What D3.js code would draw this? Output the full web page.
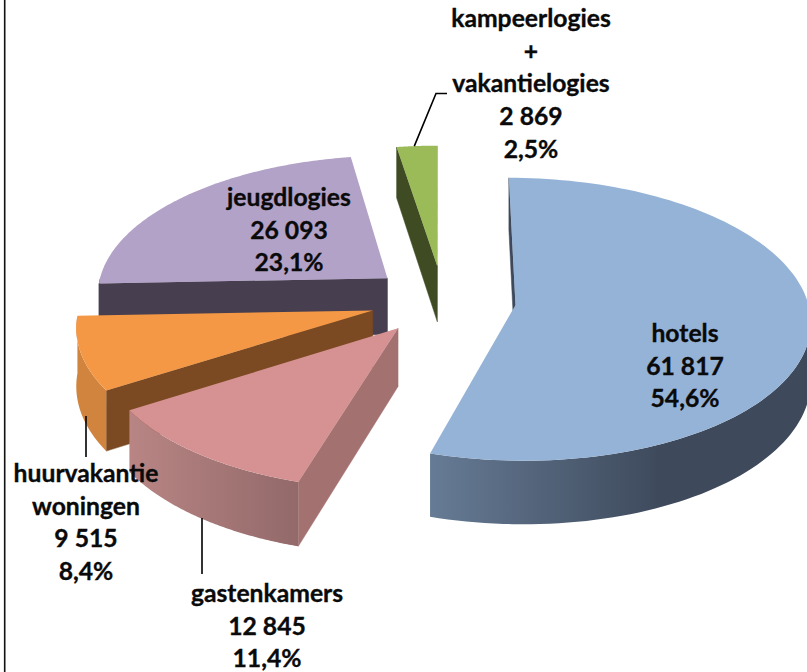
<!DOCTYPE html>
<html>
<head>
<meta charset="utf-8">
<script src="https://cdn.jsdelivr.net/npm/d3@7"></script>
<style>
html,body{margin:0;padding:0;background:#fff;overflow:hidden}
svg{display:block}
text{font-family:Lato,sans-serif;font-weight:700;font-size:24.7px;fill:#0a0a0a;stroke:#0a0a0a;stroke-width:0.35px;text-anchor:middle}
</style>
</head>
<body>
<svg id="chart" width="807" height="672"></svg>
<script>
// Data, clockwise from twelve o'clock
const categories = ["hotels", "gastenkamers", "huurvakantie woningen", "jeugdlogies", "kampeerlogies + vakantielogies"];
const visitors = [61817, 12845, 9515, 26093, 2869];

// Text layout of each label
const labelLines = [["hotels"], ["gastenkamers"], ["huurvakantie", "woningen"], ["jeugdlogies"], ["kampeerlogies", "+", "vakantielogies"]];
const labelCentreX = [685, 267, 86, 289, 531];
const labelFirstBaseline = [342, 602, 482, 206, 27];
const lineStep = 32.7;

// Styles
const topColors = ["#95b3d7", "#d69292", "#f59845", "#b3a2c7", "#9bbb59"];
const radialWallColors = ["#3e4a5c", "#a37170", "#7b4a22", "#473f4f", "#3f4b22"];
const arcWallStops = [["#667b95", "#3e4a5c"], ["#b88584", "#93696a"], ["#d0843e", "#d0843e"], ["#473f4f", "#473f4f"], ["#3f4b22", "#3f4b22"]];

// Projection of the tilted pie
const width = 807, height = 672;
const explode = 0.25, perspective = 0.1, wallDepth = 57;
const xScale = d3.scaleLinear().domain([-1, 1]).range([443 - 292, 443 + 292]);
const depthScale = d3.scaleLinear().domain([-1, 1]).range([139, -139]);

const svg = d3.select("#chart");
const defs = svg.append("defs");
const fmtLocale = d3.formatLocale({decimal: ",", thousands: " ", grouping: [3], currency: ["", ""]});
const fmtValue = fmtLocale.format(",d");
const fmtPct = fmtLocale.format(".1%");
const total = d3.sum(visitors);

const arcs = d3.pie().sort(null).value(d => d)(visitors);

function project(arc, angle, radius, lower) {
  const mid = (arc.startAngle + arc.endAngle) / 2;
  const X = explode * Math.sin(mid) + radius * Math.sin(angle);
  const Z = explode * Math.cos(mid) + radius * Math.cos(angle);
  const s = 1 / (1 + perspective * Z);
  return [
    xScale(0) + (xScale(X) - xScale(0)) * s,
    300 + depthScale(Z) * s + (lower ? wallDepth * s : 0)
  ];
}

const line = d3.line();
// back to front
const slices = arcs.map((arc, i) => ({arc, i}));
slices.sort((a, b) => Math.cos((b.arc.startAngle + b.arc.endAngle) / 2) - Math.cos((a.arc.startAngle + a.arc.endAngle) / 2));

const sampleAngles = (a0, a1) => d3.range(0, 121).map(t => a0 + (a1 - a0) * t / 120);

slices.forEach(({arc, i}) => {
  const g = svg.append("g").attr("class", "slice");
  const a0 = arc.startAngle, a1 = arc.endAngle;
  const apex = project(arc, 0, 0, false), apexL = project(arc, 0, 0, true);

  // radial walls, only where they face the viewer
  const rim0 = project(arc, a0, 1, false), rim0L = project(arc, a0, 1, true);
  const rim1 = project(arc, a1, 1, false), rim1L = project(arc, a1, 1, true);
  if (rim0[0] < apex[0]) {
    g.append("path").attr("d", line([apex, rim0, rim0L, apexL]) + "Z")
      .attr("fill", radialWallColors[i]).attr("stroke", radialWallColors[i]).attr("stroke-width", 0.5);
  }
  if (rim1[0] > apex[0] + 0.5) {
    g.append("path").attr("d", line([apex, rim1, rim1L, apexL]) + "Z")
      .attr("fill", radialWallColors[i]);
  }

  // outer curved wall, front half only
  const front = sampleAngles(a0, a1).filter(a => Math.cos(a) < 0.02);
  if (front.length > 1) {
    const upper = front.map(a => project(arc, a, 1, false));
    const lower = front.map(a => project(arc, a, 1, true));
    const xs = upper.map(p => p[0]);
    const gradId = "arcGrad" + i;
    const grad = defs.append("linearGradient").attr("id", gradId)
      .attr("gradientUnits", "userSpaceOnUse")
      .attr("x1", d3.min(xs)).attr("x2", i === 0 ? d3.min(xs) + 230 : d3.max(xs))
      .attr("y1", 0).attr("y2", 0);
    grad.append("stop").attr("offset", 0).attr("stop-color", arcWallStops[i][0]);
    grad.append("stop").attr("offset", 1).attr("stop-color", arcWallStops[i][1]);
    g.append("path").attr("d", line(upper.concat(lower.reverse())) + "Z")
      .attr("fill", `url(#${gradId})`);
  }

  // top face
  const rim = sampleAngles(a0, a1).map(a => project(arc, a, 1, false));
  g.append("path").attr("d", line([apex].concat(rim)) + "Z").attr("fill", topColors[i]);
});

// Leader lines from the rim of three slices to their labels
const leader = d3.line();
const rimPoint = (i, t) => {
  const arc = arcs[i];
  return project(arc, arc.startAngle + (arc.endAngle - arc.startAngle) * t, 1, false);
};
const kampStart = rimPoint(4, 0.43);
svg.append("path").attr("fill", "none").attr("stroke", "#000").attr("stroke-width", 1.6)
  .attr("d", leader([kampStart, [436, 93.5], [447, 93.5]]));
svg.append("path").attr("fill", "none").attr("stroke", "#000").attr("stroke-width", 1.6)
  .attr("d", leader([[86, 416], [86, 457]]));
svg.append("path").attr("fill", "none").attr("stroke", "#000").attr("stroke-width", 1.6)
  .attr("d", leader([[202, 518], [202, 574]]));

// Labels
categories.forEach((c, i) => {
  const lines = labelLines[i].concat([fmtValue(visitors[i]), fmtPct(visitors[i] / total)]);
  const t = svg.append("text").attr("class", "label");
  lines.forEach((l, k) => {
    t.append("tspan").attr("x", labelCentreX[i]).attr("y", labelFirstBaseline[i] + k * lineStep).text(l);
  });
});

// Left frame line
svg.append("line").attr("x1", 4.7).attr("x2", 4.7).attr("y1", 0).attr("y2", height)
  .attr("stroke", "#111").attr("stroke-width", 1.6);
</script>
</body>
</html>
